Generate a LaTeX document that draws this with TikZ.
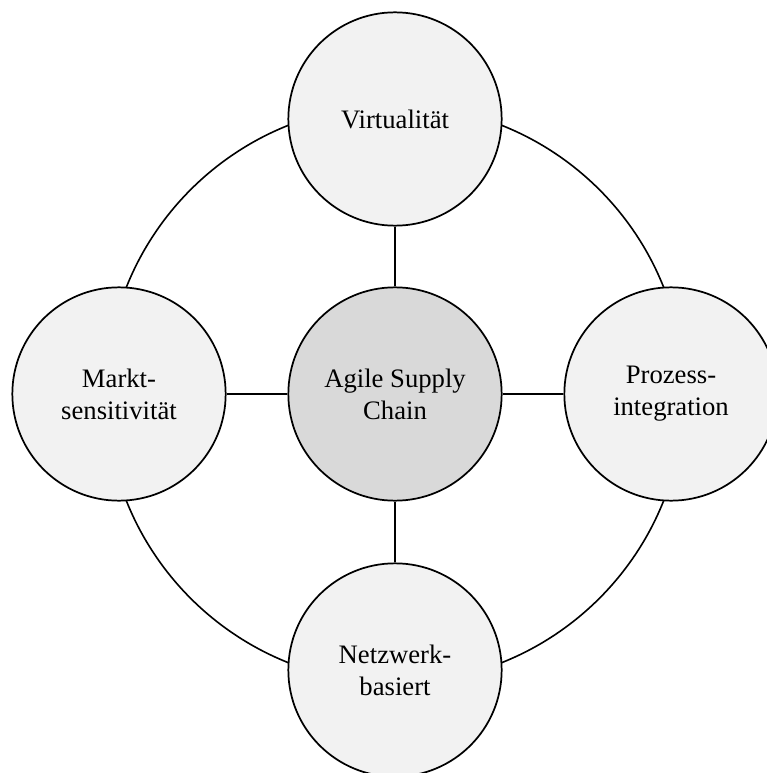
\documentclass[tikz,border=0pt]{standalone}
\usepackage{fontspec}
\setmainfont{Liberation Serif}
\usetikzlibrary{backgrounds}
\definecolor{pillarfill}{HTML}{F2F2F2}
\definecolor{corefill}{HTML}{D9D9D9}

\begin{document}
\begin{tikzpicture}[x=0.75pt, y=-0.75pt,
    pillar/.style={circle, draw, line width=1.3pt, fill=pillarfill,
      minimum size=160pt, inner sep=0pt, align=center,
      font=\fontsize{20}{24}\selectfont},
    core/.style={pillar, fill=corefill},
    link/.style={line width=1.2pt}]
    \useasboundingbox (0,0) rectangle (766,773);

    % centre
    \node[core] (asc) at (395,394) {Agile Supply\\Chain};

    % the four pillars
    \node[pillar] (virt) at (395,119) {Virtualit\"at};
    \node[pillar] (markt) at (119,394) {Markt-\\sensitivit\"at};
    \node[pillar] (proz) at (671,394) {Prozess-\\integration};
    \node[pillar] (netz) at (395,670) {Netzwerk-\\basiert};

    % ring and spokes
    \begin{scope}[on background layer]
      \draw[link] (asc) circle (216.75pt);
      \draw[link] (virt) -- (asc) (markt) -- (asc)
                  (proz) -- (asc) (netz) -- (asc);
    \end{scope}
\end{tikzpicture}
\end{document}
